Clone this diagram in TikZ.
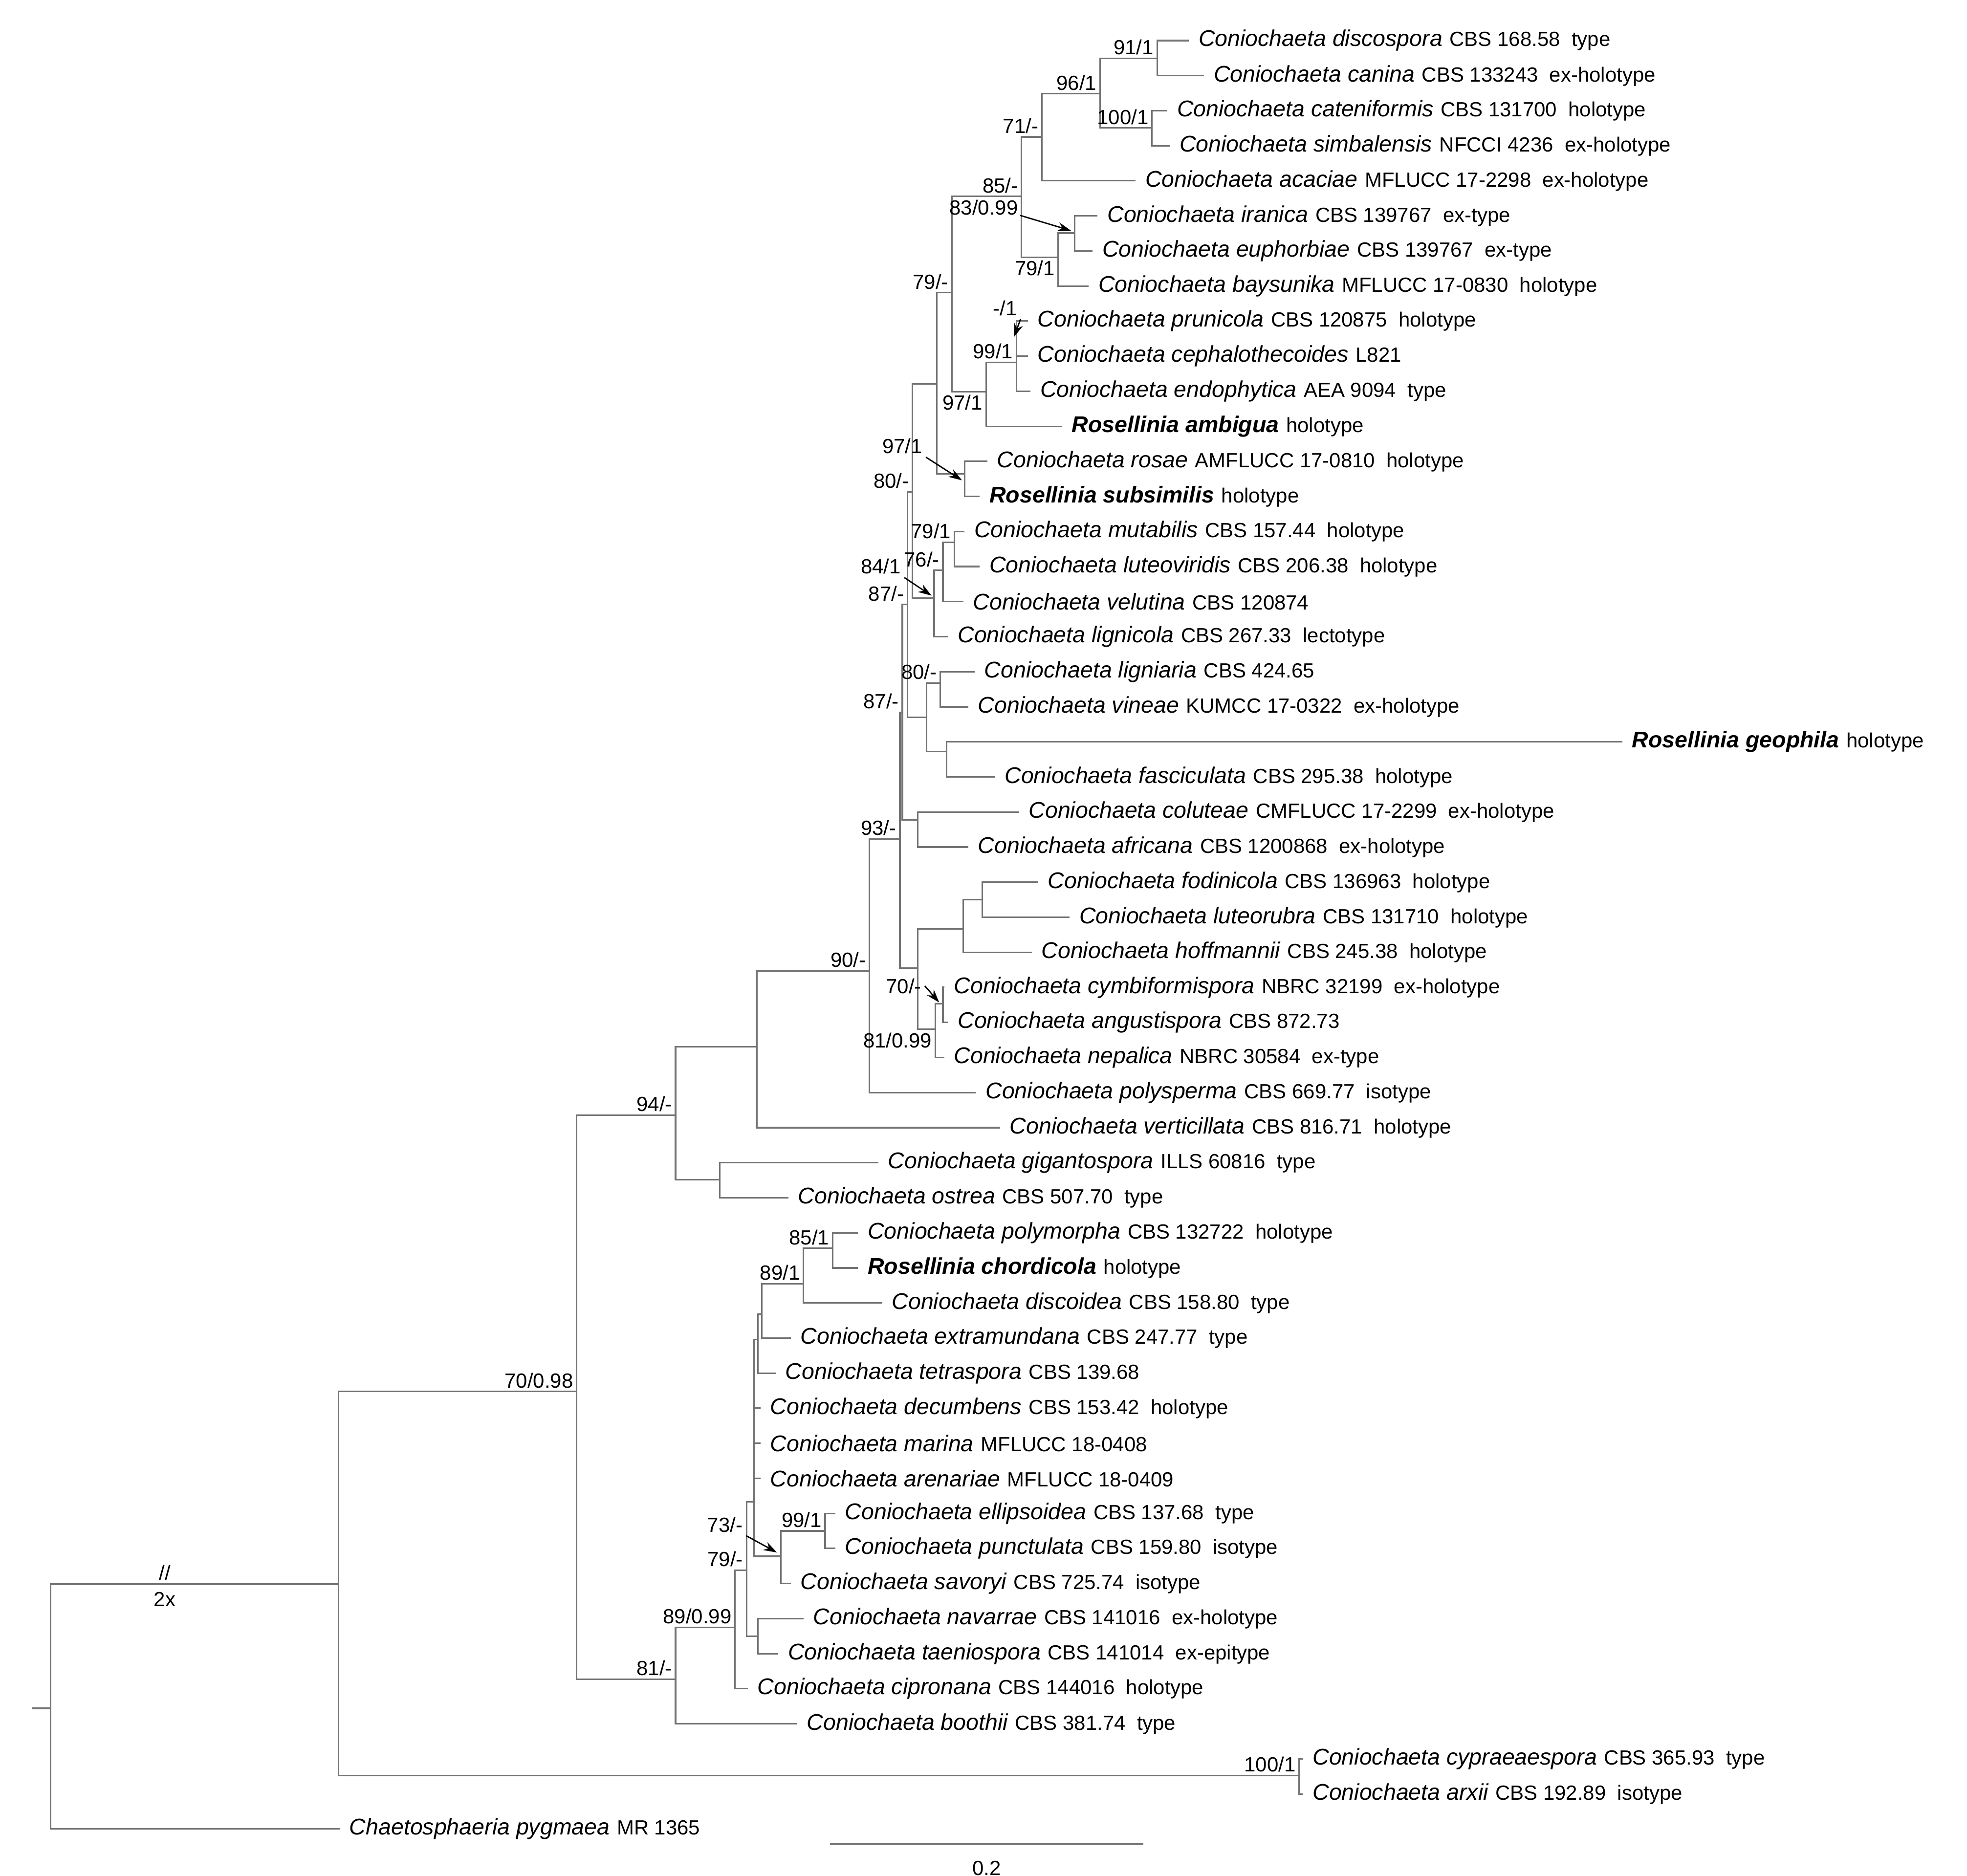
\documentclass[tikz,border=0pt]{standalone}
\usepackage{fontspec}
\setmainfont{Liberation Sans}
\usetikzlibrary{arrows.meta}
\newcommand{\ry}[1]{{32+27.67*(#1-1)}}
\newcommand{\spc}[1]{{\fontsize{5.1}{6}\selectfont\itshape #1}}
\newcommand{\rb}[1]{{\fontsize{5.1}{6}\selectfont\bfseries\itshape #1}}
\newcommand{\cd}[1]{{\fontsize{4.6}{5}\selectfont\hspace{1.6pt}#1}}
\begin{document}
\begin{tikzpicture}[x=0.01cm,y=-0.01cm]
  \tikzstyle{br}=[color=black!55, line width=0.35pt]
  \tikzstyle{taxon}=[anchor=west, inner xsep=2pt, inner ysep=0pt]
  \tikzstyle{sup}=[font=\fontsize{4.6}{5}\selectfont, inner sep=0.6pt, text=black]
  \tikzstyle{ptr}=[color=black, line width=0.3pt, -{Stealth[length=3pt,width=2pt]}]
  \useasboundingbox (0,0) rectangle (1552,1480);
  % internal nodes
  \coordinate (root) at (40,1348);
  \coordinate (tick) at (25,1348);
  \coordinate (nA) at (267,1250);
  \coordinate (nB) at (455,1098);
  \coordinate (nCyp) at (1025,1401);
  \coordinate (nC) at (533,880);
  \coordinate (nF81) at (533,1325);
  \coordinate (n90p) at (597,826);
  \coordinate (nGi) at (568,931);
  \coordinate (nE) at (686,766);
  \coordinate (nF) at (710,662);
  \coordinate (nH) at (712,562);
  \coordinate (n87) at (716,477);
  \coordinate (n80) at (720,388);
  \coordinate (nX) at (739,303);
  \coordinate (n79) at (751,231);
  \coordinate (n85) at (806,155);
  \coordinate (n71) at (822,108);
  \coordinate (n96) at (868,74);
  \coordinate (n91) at (913,46);
  \coordinate (n100) at (909,101);
  \coordinate (n79b) at (835,203);
  \coordinate (nIr) at (848,184);
  \coordinate (n97) at (778,309);
  \coordinate (n99) at (802,286);
  \coordinate (nRo) at (761,374);
  \coordinate (n84) at (737,472);
  \coordinate (n76) at (744,450);
  \coordinate (n791) at (753,428);
  \coordinate (nLv) at (731,566);
  \coordinate (n80b) at (742,539);
  \coordinate (nGe) at (747,593);
  \coordinate (nCo) at (724,647);
  \coordinate (nK) at (724,764);
  \coordinate (nL) at (760,733);
  \coordinate (nM) at (775,710);
  \coordinate (nP) at (738,812);
  \coordinate (nQ) at (744,792);
  \coordinate (n8999) at (580,1284);
  \coordinate (n79c) at (589,1239);
  \coordinate (nPo) at (595,1185);
  \coordinate (nT) at (598,1057);
  \coordinate (nEx) at (601,1037);
  \coordinate (n89) at (634,1013);
  \coordinate (n85c) at (657,985);
  \coordinate (n73) at (616,1228);
  \coordinate (n991) at (651,1208);
  \coordinate (nNa) at (598,1291);
  % taxa
  \node[taxon] (disc) at (938,\ry{1}) {\spc{Coniochaeta discospora}\cd{CBS 168.58\ \ type}};
  \node[taxon] (cani) at (950,\ry{2}) {\spc{Coniochaeta canina}\cd{CBS 133243\ \ ex-holotype}};
  \node[taxon] (cate) at (921,\ry{3}) {\spc{Coniochaeta cateniformis}\cd{CBS 131700\ \ holotype}};
  \node[taxon] (simb) at (923,\ry{4}) {\spc{Coniochaeta simbalensis}\cd{NFCCI 4236\ \ ex-holotype}};
  \node[taxon] (acac) at (896,\ry{5}) {\spc{Coniochaeta acaciae}\cd{MFLUCC 17-2298\ \ ex-holotype}};
  \node[taxon] (iran) at (866,\ry{6}) {\spc{Coniochaeta iranica}\cd{CBS 139767\ \ ex-type}};
  \node[taxon] (euph) at (862,\ry{7}) {\spc{Coniochaeta euphorbiae}\cd{CBS 139767\ \ ex-type}};
  \node[taxon] (bays) at (859,\ry{8}) {\spc{Coniochaeta baysunika}\cd{MFLUCC 17-0830\ \ holotype}};
  \node[taxon] (prun) at (811,\ry{9}) {\spc{Coniochaeta prunicola}\cd{CBS 120875\ \ holotype}};
  \node[taxon] (ceph) at (811,\ry{10}) {\spc{Coniochaeta cephalothecoides}\cd{L821}};
  \node[taxon] (endo) at (813,\ry{11}) {\spc{Coniochaeta endophytica}\cd{AEA 9094\ \ type}};
  \node[taxon] (ambi) at (838,\ry{12}) {\rb{Rosellinia ambigua}\cd{holotype}};
  \node[taxon] (rosa) at (779,\ry{13}) {\spc{Coniochaeta rosae}\cd{AMFLUCC 17-0810\ \ holotype}};
  \node[taxon] (subs) at (773,\ry{14}) {\rb{Rosellinia subsimilis}\cd{holotype}};
  \node[taxon] (muta) at (761,\ry{15}) {\spc{Coniochaeta mutabilis}\cd{CBS 157.44\ \ holotype}};
  \node[taxon] (lutv) at (773,\ry{16}) {\spc{Coniochaeta luteoviridis}\cd{CBS 206.38\ \ holotype}};
  \node[taxon] (velu) at (760,\ry{17}) {\spc{Coniochaeta velutina}\cd{CBS 120874}};
  \node[taxon] (lign) at (748,\ry{18}) {\spc{Coniochaeta lignicola}\cd{CBS 267.33\ \ lectotype}};
  \node[taxon] (ligi) at (769,\ry{19}) {\spc{Coniochaeta ligniaria}\cd{CBS 424.65}};
  \node[taxon] (vine) at (764,\ry{20}) {\spc{Coniochaeta vineae}\cd{KUMCC 17-0322\ \ ex-holotype}};
  \node[taxon] (geop) at (1280,\ry{21}) {\rb{Rosellinia geophila}\cd{holotype}};
  \node[taxon] (fasc) at (785,\ry{22}) {\spc{Coniochaeta fasciculata}\cd{CBS 295.38\ \ holotype}};
  \node[taxon] (colu) at (804,\ry{23}) {\spc{Coniochaeta coluteae}\cd{CMFLUCC 17-2299\ \ ex-holotype}};
  \node[taxon] (afri) at (764,\ry{24}) {\spc{Coniochaeta africana}\cd{CBS 1200868\ \ ex-holotype}};
  \node[taxon] (fodi) at (819,\ry{25}) {\spc{Coniochaeta fodinicola}\cd{CBS 136963\ \ holotype}};
  \node[taxon] (lutr) at (844,\ry{26}) {\spc{Coniochaeta luteorubra}\cd{CBS 131710\ \ holotype}};
  \node[taxon] (hoff) at (814,\ry{27}) {\spc{Coniochaeta hoffmannii}\cd{CBS 245.38\ \ holotype}};
  \node[taxon] (cymb) at (745,\ry{28}) {\spc{Coniochaeta cymbiformispora}\cd{NBRC 32199\ \ ex-holotype}};
  \node[taxon] (angu) at (748,\ry{29}) {\spc{Coniochaeta angustispora}\cd{CBS 872.73}};
  \node[taxon] (nepa) at (745,\ry{30}) {\spc{Coniochaeta nepalica}\cd{NBRC 30584\ \ ex-type}};
  \node[taxon] (poly) at (770,\ry{31}) {\spc{Coniochaeta polysperma}\cd{CBS 669.77\ \ isotype}};
  \node[taxon] (vert) at (789,\ry{32}) {\spc{Coniochaeta verticillata}\cd{CBS 816.71\ \ holotype}};
  \node[taxon] (giga) at (693,\ry{33}) {\spc{Coniochaeta gigantospora}\cd{ILLS 60816\ \ type}};
  \node[taxon] (ostr) at (622,\ry{34}) {\spc{Coniochaeta ostrea}\cd{CBS 507.70\ \ type}};
  \node[taxon] (polm) at (677,\ry{35}) {\spc{Coniochaeta polymorpha}\cd{CBS 132722\ \ holotype}};
  \node[taxon] (chor) at (677,\ry{36}) {\rb{Rosellinia chordicola}\cd{holotype}};
  \node[taxon] (disd) at (696,\ry{37}) {\spc{Coniochaeta discoidea}\cd{CBS 158.80\ \ type}};
  \node[taxon] (extr) at (624,\ry{38}) {\spc{Coniochaeta extramundana}\cd{CBS 247.77\ \ type}};
  \node[taxon] (tetr) at (612,\ry{39}) {\spc{Coniochaeta tetraspora}\cd{CBS 139.68}};
  \node[taxon] (decu) at (600,\ry{40}) {\spc{Coniochaeta decumbens}\cd{CBS 153.42\ \ holotype}};
  \node[taxon] (mari) at (600,\ry{41}) {\spc{Coniochaeta marina}\cd{MFLUCC 18-0408}};
  \node[taxon] (aren) at (600,\ry{42}) {\spc{Coniochaeta arenariae}\cd{MFLUCC 18-0409}};
  \node[taxon] (elli) at (659,\ry{43}) {\spc{Coniochaeta ellipsoidea}\cd{CBS 137.68\ \ type}};
  \node[taxon] (punc) at (659,\ry{44}) {\spc{Coniochaeta punctulata}\cd{CBS 159.80\ \ isotype}};
  \node[taxon] (savo) at (624,\ry{45}) {\spc{Coniochaeta savoryi}\cd{CBS 725.74\ \ isotype}};
  \node[taxon] (nava) at (634,\ry{46}) {\spc{Coniochaeta navarrae}\cd{CBS 141016\ \ ex-holotype}};
  \node[taxon] (taen) at (614,\ry{47}) {\spc{Coniochaeta taeniospora}\cd{CBS 141014\ \ ex-epitype}};
  \node[taxon] (cipr) at (590,\ry{48}) {\spc{Coniochaeta cipronana}\cd{CBS 144016\ \ holotype}};
  \node[taxon] (boot) at (629,\ry{49}) {\spc{Coniochaeta boothii}\cd{CBS 381.74\ \ type}};
  \node[taxon] (cypr) at (1028,\ry{50}) {\spc{Coniochaeta cypraeaespora}\cd{CBS 365.93\ \ type}};
  \node[taxon] (arxi) at (1028,\ry{51}) {\spc{Coniochaeta arxii}\cd{CBS 192.89\ \ isotype}};
  \node[taxon] (chae) at (268,\ry{52}) {\spc{Chaetosphaeria pygmaea}\cd{MR 1365}};
  % branches
  \draw [br] (tick) -- (root);
  \draw [br] (root) |- (nA);
  \draw [br] (root) |- (chae.west);
  \draw [br] (nA) |- (nB);
  \draw [br] (nA) |- (nCyp);
  \draw [br] (nCyp) |- (cypr.west);
  \draw [br] (nCyp) |- (arxi.west);
  \draw [br] (nB) |- (nC);
  \draw [br] (nB) |- (nF81);
  \draw [br] (nC) |- (n90p);
  \draw [br] (nC) |- (nGi);
  \draw [br] (nGi) |- (giga.west);
  \draw [br] (nGi) |- (ostr.west);
  \draw [br] (n90p) |- (nE);
  \draw [br] (n90p) |- (vert.west);
  \draw [br] (nE) |- (nF);
  \draw [br] (nE) |- (poly.west);
  \draw [br] (nF) |- (nH);
  \draw [br] (nF) |- (nK);
  \draw [br] (nH) |- (n87);
  \draw [br] (nH) |- (nCo);
  \draw [br] (nCo) |- (colu.west);
  \draw [br] (nCo) |- (afri.west);
  \draw [br] (n87) |- (n80);
  \draw [br] (n87) |- (nLv);
  \draw [br] (nLv) |- (n80b);
  \draw [br] (nLv) |- (nGe);
  \draw [br] (n80b) |- (ligi.west);
  \draw [br] (n80b) |- (vine.west);
  \draw [br] (nGe) |- (geop.west);
  \draw [br] (nGe) |- (fasc.west);
  \draw [br] (n80) |- (nX);
  \draw [br] (n80) |- (n84);
  \draw [br] (n84) |- (n76);
  \draw [br] (n84) |- (lign.west);
  \draw [br] (n76) |- (n791);
  \draw [br] (n76) |- (velu.west);
  \draw [br] (n791) |- (muta.west);
  \draw [br] (n791) |- (lutv.west);
  \draw [br] (nX) |- (n79);
  \draw [br] (nX) |- (nRo);
  \draw [br] (nRo) |- (rosa.west);
  \draw [br] (nRo) |- (subs.west);
  \draw [br] (n79) |- (n85);
  \draw [br] (n79) |- (n97);
  \draw [br] (n97) |- (n99);
  \draw [br] (n97) |- (ambi.west);
  \draw [br] (n99) |- (prun.west);
  \draw [br] (n99) |- (ceph.west);
  \draw [br] (n99) |- (endo.west);
  \draw [br] (n85) |- (n71);
  \draw [br] (n85) |- (n79b);
  \draw [br] (n79b) |- (nIr);
  \draw [br] (n79b) |- (bays.west);
  \draw [br] (nIr) |- (iran.west);
  \draw [br] (nIr) |- (euph.west);
  \draw [br] (n71) |- (n96);
  \draw [br] (n71) |- (acac.west);
  \draw [br] (n96) |- (n91);
  \draw [br] (n96) |- (n100);
  \draw [br] (n91) |- (disc.west);
  \draw [br] (n91) |- (cani.west);
  \draw [br] (n100) |- (cate.west);
  \draw [br] (n100) |- (simb.west);
  \draw [br] (nK) |- (nL);
  \draw [br] (nK) |- (nP);
  \draw [br] (nL) |- (nM);
  \draw [br] (nL) |- (hoff.west);
  \draw [br] (nM) |- (fodi.west);
  \draw [br] (nM) |- (lutr.west);
  \draw [br] (nP) |- (nQ);
  \draw [br] (nP) |- (nepa.west);
  \draw [br] (nQ) |- (cymb.west);
  \draw [br] (nQ) |- (angu.west);
  \draw [br] (nF81) |- (n8999);
  \draw [br] (nF81) |- (boot.west);
  \draw [br] (n8999) |- (n79c);
  \draw [br] (n8999) |- (cipr.west);
  \draw [br] (n79c) |- (nPo);
  \draw [br] (n79c) |- (nNa);
  \draw [br] (nNa) |- (nava.west);
  \draw [br] (nNa) |- (taen.west);
  \draw [br] (nPo) |- (nT);
  \draw [br] (nPo) |- (n73);
  \draw [br] (nPo) |- (decu.west);
  \draw [br] (nPo) |- (mari.west);
  \draw [br] (nPo) |- (aren.west);
  \draw [br] (nT) |- (nEx);
  \draw [br] (nT) |- (tetr.west);
  \draw [br] (nEx) |- (n89);
  \draw [br] (nEx) |- (extr.west);
  \draw [br] (n89) |- (n85c);
  \draw [br] (n89) |- (disd.west);
  \draw [br] (n85c) |- (polm.west);
  \draw [br] (n85c) |- (chor.west);
  \draw [br] (n73) |- (n991);
  \draw [br] (n73) |- (savo.west);
  \draw [br] (n991) |- (elli.west);
  \draw [br] (n991) |- (punc.west);
  % support values
  \node[sup,anchor=south east] (s91) at (n91) {91/1};
  \node[sup,anchor=south east] (s96) at (n96) {96/1};
  \node[sup,anchor=south east] (s100) at (n100) {100/1};
  \node[sup,anchor=south east] (s71) at (n71) {71/-};
  \node[sup,anchor=south east] (s85) at (n85) {85/-};
  \node[sup,anchor=north east] (s83) at (n85) {83/0.99};
  \node[sup,anchor=north east] (s79b) at (n79b) {79/1};
  \node[sup,anchor=south east] (s79) at (n79) {79/-};
  \node[sup] (sm1) at (793,243) {-/1};
  \node[sup,anchor=south east] (s99) at (n99) {99/1};
  \node[sup,anchor=north east] (s97) at (n97) {97/1};
  \node[sup] (s97r) at (712,352) {97/1};
  \node[sup,anchor=south east] (s80) at (n80) {80/-};
  \node[sup,anchor=south east] (s791) at (n791) {79/1};
  \node[sup,anchor=south east] (s76) at (n76) {76/-};
  \node[sup] (s84) at (695,447) {84/1};
  \node[sup,anchor=south east] (s87) at (n87) {87/-};
  \node[sup,anchor=south east] (s80b) at (n80b) {80/-};
  \node[sup,anchor=south east] (s87b) at (nH) {87/-};
  \node[sup,anchor=south east] (s93) at (nF) {93/-};
  \node[sup,anchor=south east] (s90) at (nE) {90/-};
  \node[sup] (s70) at (713,778) {70/-};
  \node[sup,anchor=north east] (s81b) at (nP) {81/0.99};
  \node[sup,anchor=south east] (s94) at (nC) {94/-};
  \node[sup,anchor=south east] (s70b) at (nB) {70/0.98};
  \node[sup,anchor=south east] (s100b) at (nCyp) {100/1};
  \node[sup,anchor=south east] (s85c) at (n85c) {85/1};
  \node[sup,anchor=south east] (s89) at (n89) {89/1};
  \node[sup,anchor=south east] (s991) at (n991) {99/1};
  \node[sup] (s73) at (572,1203) {73/-};
  \node[sup,anchor=south east] (s79c) at (n79c) {79/-};
  \node[sup,anchor=south east] (s8999) at (n8999) {89/0.99};
  \node[sup,anchor=south east] (s81) at (nF81) {81/-};
  \coordinate (tIr) at (845,182);
  \coordinate (t99) at (800,266);
  \coordinate (tRo) at (759,379);
  \coordinate (t84) at (735,470);
  \coordinate (tQ) at (741,791);
  \coordinate (t73) at (613,1225);
  \draw [ptr] (805,170) -- (tIr);
  \draw [ptr] (sm1.south east) -- (t99);
  \draw [ptr] (s97r.south east) -- (tRo);
  \draw [ptr] (s84.south east) -- (t84);
  \draw [ptr] (s70.east) -- (tQ);
  \draw [ptr] (s73.south east) -- (t73);
  % break mark and scale
  \node[sup] (brk) at (130,1241) {//};
  \node[sup] (twox) at (130,1262) {2x};
  \coordinate (sb1) at (655,1455);
  \coordinate (sb2) at (902,1455);
  \draw [br] (sb1) -- (sb2) node[sup,midway,below=3pt] (sbl) {0.2};
\end{tikzpicture}
\end{document}
